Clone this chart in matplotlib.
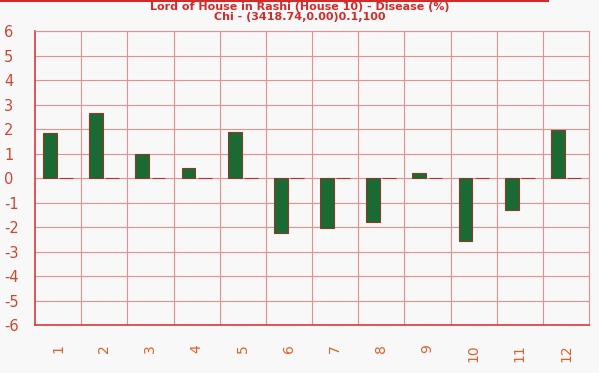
import numpy as np
import matplotlib
matplotlib.use("Agg")
import matplotlib.pyplot as plt

houses = ['1', '2', '3', '4', '5', '6', '7', '8', '9', '10', '11', '12']
disease = [1.84, 2.66, 0.98, 0.41, 1.88, -2.25, -2.05, -1.80, 0.20, -2.58, -1.31, 1.98]
other = [0, 0, 0, 0, 0, 0, 0, 0, 0, 0, 0, 0]
title = 'Lord of House in Rashi (House 10) - Disease (%)\nChi - (3418.74,0.00)0.1,100'

def main():
    plt.rcParams['axes.unicode_minus'] = False
    fig = plt.figure(figsize=(5.99, 3.73), dpi=100, facecolor='#f8f8f8')
    ax = fig.add_axes([0.0584, 0.1287, 0.925, 0.787])
    ax.set_facecolor('#f8f8f8')

    x = np.arange(1, len(houses) + 1)
    ax.bar(x - 0.175, disease, width=0.30, color='#1b6a33', edgecolor='#8b3a2a', linewidth=0.8, zorder=3)
    ax.bar(x + 0.175, other, width=0.30, color='#1b6a33', edgecolor='#b0342a', linewidth=0.8, zorder=3)

    ax.set_xlim(0.5, 12.5)
    ax.set_ylim(-6, 6)
    ax.set_yticks(range(-6, 7))
    ax.set_xticks(x)
    ax.set_xticklabels(houses, rotation=90)

    # grid at slot boundaries
    for b in np.arange(1.5, 12.5, 1.0):
        ax.axvline(b, color='#e58f8f', linewidth=0.8, zorder=1)
    for v in range(-5, 7):
        ax.axhline(v, color='#e58f8f', linewidth=0.8, zorder=1)

    for s in ['top', 'right']:
        ax.spines[s].set_color('#e58f8f')
        ax.spines[s].set_linewidth(0.8)
    for s in ['left', 'bottom']:
        ax.spines[s].set_color('#d93a3a')
        ax.spines[s].set_linewidth(1.2)

    ax.tick_params(axis='y', length=0, pad=22.3, labelsize=10.5, labelcolor='#d2452f')
    ax.tick_params(axis='x', length=0, pad=14, labelsize=10, labelcolor='#e0602a')
    for lbl in ax.get_yticklabels():
        lbl.set_horizontalalignment('left')

    fig.text(0.5, 0.994, title, ha='center', va='top', fontsize=8, fontweight='bold',
             color='#d32a2a', linespacing=1.0)
    fig.add_artist(plt.Line2D([0, 0.915], [0.998, 0.998], color='#d32a2a', linewidth=1.5))

    fig.savefig('out.png', dpi=100, facecolor=fig.get_facecolor())

if __name__ == "__main__":
    main()
